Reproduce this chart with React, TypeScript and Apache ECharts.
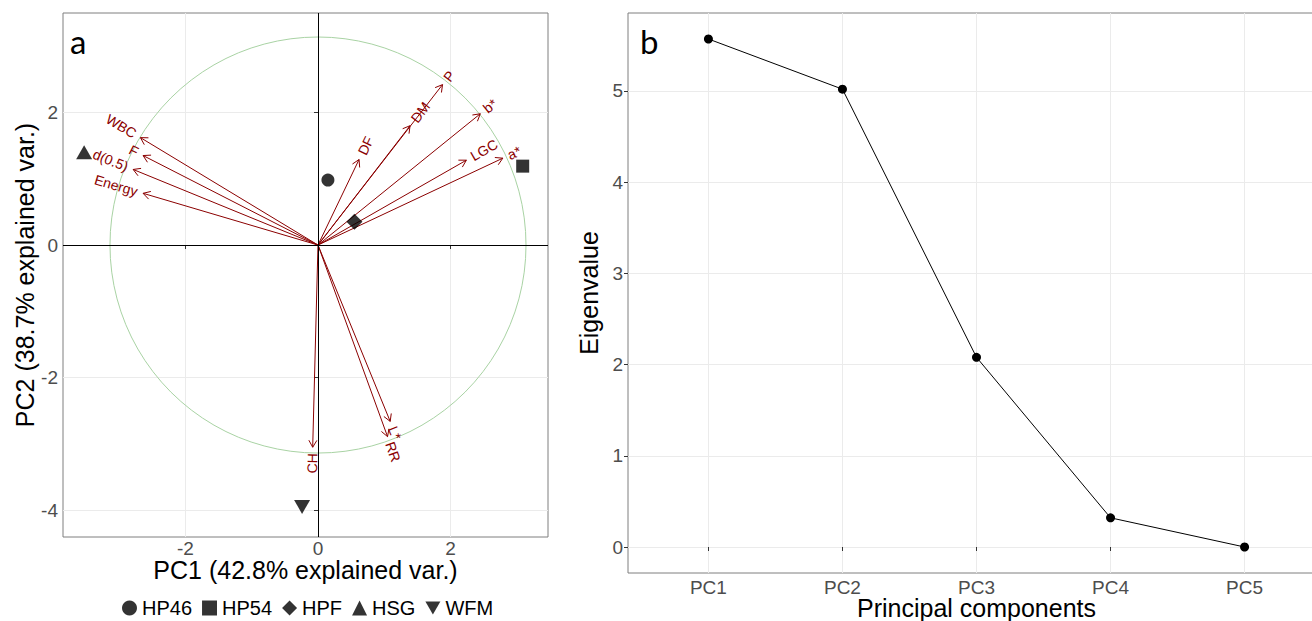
import React, { useEffect, useRef } from 'react';
import * as echarts from 'echarts';

// Panel a: PCA biplot loadings (arrow tips)
const variableNames = ['WBC', 'F', 'd(0.5)', 'Energy', 'DF', 'DM', 'P', 'b*', 'LGC', 'a*', 'CH', 'L*', 'RR'];
const pc1Loadings = [-2.68, -2.64, -2.79, -2.64, 0.62, 1.39, 1.88, 2.45, 2.24, 2.79, -0.08, 1.09, 1.05];
const pc2Loadings = [1.62, 1.35, 1.14, 0.78, 1.29, 1.80, 2.42, 1.98, 1.28, 1.31, -3.05, -2.66, -2.89];

// Panel a: sample scores
const sampleNames = ['HP46', 'HP54', 'HPF', 'HSG', 'WFM'];
const samplePC1 = [0.15, 3.09, 0.55, -3.53, -0.24];
const samplePC2 = [0.98, 1.19, 0.35, 1.40, -3.95];
const sampleSymbols = ['circle', 'rect', 'diamond', 'triangle', 'path://M0,0L10,0L5,8.7Z'];
const sampleSizes: any[] = [13, 13, 16, [16, 14], [16, 14]];

const circleRadius = 3.14;
const xTicksA = [-2, 0, 2];
const yTicksA = [-4, -2, 0, 2];

// Panel b: scree plot
const componentNames = ['PC1', 'PC2', 'PC3', 'PC4', 'PC5'];
const eigenvalues = [5.57, 5.02, 2.08, 0.32, 0.0];
const yTicksB = [0, 1, 2, 3, 4, 5];

const ARROW = '#8B0000';
const FONT = '"Liberation Sans", Arial, sans-serif';

export default function App() {
  const ref = useRef<HTMLDivElement>(null);
  useEffect(() => {
    const chart = echarts.init(ref.current!, null, { renderer: 'svg' });

    const tickLabel = { color: '#4D4D4D', fontSize: 19, lineHeight: 18, fontFamily: FONT };
    const gridCommon = {
      show: true, borderColor: '#7F7F7F', borderWidth: 1, backgroundColor: 'transparent',
      containLabel: false, outerBoundsMode: 'none',
    };
    const split = { show: true, lineStyle: { color: '#EBEBEB', width: 1 } };
    const titleStyle = { color: '#000', fontSize: 25, lineHeight: 24, fontFamily: FONT };

    const option: any = {
      animation: false,
      backgroundColor: '#fff',
      title: [
        { text: 'a', left: 70, top: 24, padding: 0, textStyle: { fontSize: 33, fontWeight: 'normal', color: '#000', fontFamily: 'Lato, sans-serif' } },
        { text: 'b', left: 640, top: 24, padding: 0, textStyle: { fontSize: 33, fontWeight: 'normal', color: '#000', fontFamily: 'Lato, sans-serif' } },
      ],
      legend: {
        data: sampleNames,
        left: 117,
        top: 593,
        itemWidth: 15,
        itemHeight: 15,
        itemGap: 10,
        textStyle: { color: '#000', fontSize: 20, fontFamily: FONT },
        selectedMode: false,
      },
      grid: [
        { left: 63, top: 13, width: 485, height: 524, ...gridCommon },
        { left: 628, top: 13, width: 697, height: 560, ...gridCommon },
      ],
      xAxis: [
        {
          type: 'value', gridIndex: 0, min: -3.849, max: 3.472,
          axisLine: { show: false },
          axisTick: { show: true, length: 4, lineStyle: { color: '#333' }, customValues: xTicksA },
          axisLabel: { ...tickLabel, margin: 2, customValues: xTicksA },
          splitLine: split,
          name: 'PC1 (42.8% explained var.)', nameLocation: 'middle', nameGap: 21, nameMoveOverlap: false,
          nameTextStyle: titleStyle,
        },
        {
          type: 'value', gridIndex: 1, min: 0.4, max: 5.6,
          axisLine: { show: false },
          axisTick: { show: true, length: 4, lineStyle: { color: '#333' }, customValues: [1, 2, 3, 4, 5] },
          axisLabel: { ...tickLabel, margin: 5, customValues: [1, 2, 3, 4, 5], formatter: (v: number) => componentNames[Math.round(v) - 1] ?? '' },
          splitLine: split,
          name: 'Principal components', nameLocation: 'middle', nameGap: 23, nameMoveOverlap: false,
          nameTextStyle: titleStyle,
        },
      ],
      yAxis: [
        {
          type: 'value', gridIndex: 0, min: -4.404, max: 3.5,
          axisLine: { show: false },
          axisTick: { show: true, length: 4, lineStyle: { color: '#333' }, customValues: yTicksA },
          axisLabel: { ...tickLabel, margin: 5, customValues: yTicksA },
          splitLine: split,
          name: 'PC2 (38.7% explained var.)', nameLocation: 'middle', nameGap: 22,
          nameTextStyle: titleStyle,
        },
        {
          type: 'value', gridIndex: 1, min: -0.285, max: 5.855,
          axisLine: { show: false },
          axisTick: { show: true, length: 4, lineStyle: { color: '#333' }, customValues: yTicksB },
          axisLabel: { ...tickLabel, margin: 5, customValues: yTicksB },
          splitLine: split,
          name: 'Eigenvalue', nameLocation: 'middle', nameGap: 20,
          nameTextStyle: titleStyle,
        },
      ],
      series: [
        {
          type: 'custom', xAxisIndex: 0, yAxisIndex: 0, z: 1, silent: true,
          data: [[0, 0, circleRadius]],
          renderItem: (params: any, api: any) => {
            const c = api.coord([api.value(0), api.value(1)]);
            const e = api.coord([api.value(0) + api.value(2), api.value(1)]);
            return {
              type: 'circle',
              shape: { cx: c[0], cy: c[1], r: e[0] - c[0] },
              style: { fill: 'none', stroke: '#A9D3A4', lineWidth: 1 },
            };
          },
          markLine: {
            silent: true, symbol: ['none', 'none'],
            label: { show: false },
            lineStyle: { color: '#000', type: 'solid', width: 1 },
            data: [{ xAxis: 0 }, { yAxis: 0 }],
          },
        },
        {
          type: 'custom', xAxisIndex: 0, yAxisIndex: 0, z: 3, silent: true,
          data: pc1Loadings.map((v, i) => [v, pc2Loadings[i]]),
          renderItem: (params: any, api: any) => {
            const x = api.value(0);
            const y = api.value(1);
            const name = variableNames[params.dataIndex];
            const o = api.coord([0, 0]);
            const t = api.coord([x, y]);
            const dx = t[0] - o[0];
            const dy = t[1] - o[1];
            const len = Math.hypot(dx, dy);
            const ux = dx / len;
            const uy = dy / len;
            const L = 8;
            const a = Math.PI / 6;
            const bx = -ux;
            const by = -uy;
            const rot = (ang: number) => [bx * Math.cos(ang) - by * Math.sin(ang), bx * Math.sin(ang) + by * Math.cos(ang)];
            const h1 = rot(a);
            const h2 = rot(-a);
            const angle = Math.atan(y / x);
            const pad = 6;
            return {
              type: 'group',
              children: [
                { type: 'line', shape: { x1: o[0], y1: o[1], x2: t[0], y2: t[1] }, style: { stroke: ARROW, lineWidth: 1 } },
                {
                  type: 'polyline',
                  shape: { points: [[t[0] + h1[0] * L, t[1] + h1[1] * L], [t[0], t[1]], [t[0] + h2[0] * L, t[1] + h2[1] * L]] },
                  style: { stroke: ARROW, fill: 'none', lineWidth: 1 },
                },
                {
                  type: 'text',
                  x: t[0] + ux * pad,
                  y: t[1] + uy * pad,
                  rotation: angle,
                  style: {
                    text: name,
                    align: x > 0 ? 'left' : 'right',
                    verticalAlign: 'middle',
                    fill: ARROW,
                    fontSize: 14,
                    fontFamily: FONT,
                  },
                },
              ],
            };
          },
        },
        ...sampleNames.map((n, i) => ({
          type: 'scatter', name: n, xAxisIndex: 0, yAxisIndex: 0, z: 4,
          symbol: sampleSymbols[i], symbolSize: sampleSizes[i],
          itemStyle: { color: '#000' },
          data: [[samplePC1[i], samplePC2[i]]],
        })),
        {
          type: 'line', xAxisIndex: 1, yAxisIndex: 1, z: 4,
          data: componentNames.map((c, i) => [i + 1, eigenvalues[i]]),
          symbol: 'circle', symbolSize: 9, showSymbol: true,
          itemStyle: { color: '#000' },
          lineStyle: { color: '#000', width: 1 },
        },
      ],
    };
    chart.setOption(option);
    return () => chart.dispose();
  }, []);
  return (
    <div
      ref={ref}
      style={{ position: 'fixed', left: 0, top: 0, width: 1312, height: 621, background: '#fff' }}
    />
  );
}
